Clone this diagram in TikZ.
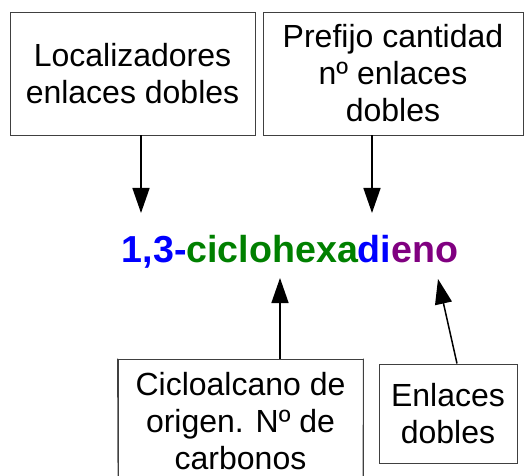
\documentclass[tikz,border=0pt]{standalone}
\usepackage{fontspec}
\setmainfont{Liberation Sans}
\usetikzlibrary{arrows.meta,calc}
\definecolor{cblue}{RGB}{0,0,255}
\definecolor{cgreen}{RGB}{0,128,0}
\definecolor{cpurple}{RGB}{128,0,128}
\tikzset{
  box/.style={draw=black!75, line width=0.9pt, align=center, inner sep=0pt,
    font=\fontsize{32}{37}\selectfont},
  arr/.style={draw=black, line width=1.5pt, -{Triangle[length=25pt,width=17pt]}},
}
\begin{document}
\begin{tikzpicture}[x=1pt,y=-1pt]
\useasboundingbox (0,0) rectangle (525,476);
\clip (0,0) rectangle (525,476);
\node[box, minimum width=245pt, minimum height=123pt] (b1) at (132.5,73.5)
  {Localizadores\\enlaces dobles};
\node[box, minimum width=260pt, minimum height=123pt] (b2) at (393,73.5)
  {Prefijo cantidad\\nº enlaces\\dobles};
\node[box, minimum width=245pt, minimum height=124pt] (b3) at (240.5,421)
  {Cicloalcano de\\origen. Nº de\\carbonos};
\node[box, minimum width=138pt, minimum height=99pt] (b4) at (448,413.5)
  {Enlaces\\dobles};
\node[inner sep=0pt, anchor=base, font=\fontsize{37.6}{40}\selectfont\bfseries] (name) at (290,262)
  {\textcolor{cblue}{1,3-}\textcolor{cgreen}{ciclohexa}\textcolor{cblue}{di}\textcolor{cpurple}{eno}};
\coordinate (t1) at (141,213);
\coordinate (t2) at (372,213);
\coordinate (t3) at (280,278);
\coordinate (t4) at (438,279);
\coordinate (s4) at (457,364);
\draw[arr] (b1.south -| t1) -- (t1);
\draw[arr] (b2.south -| t2) -- (t2);
\draw[arr] (b3.north -| t3) -- (t3);
\draw[arr] (b4.north -| s4) -- (t4);
\draw[draw=black!75, line width=0.9pt] (b3.north west) -- (118,476) (b3.north east) -- (363,476);
\end{tikzpicture}
\end{document}
